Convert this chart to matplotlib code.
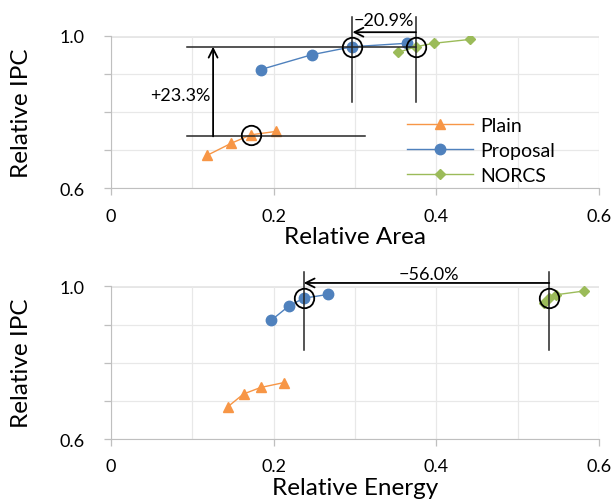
import matplotlib
matplotlib.use("Agg")
import matplotlib.pyplot as plt
import numpy as np

plt.rcParams['font.family'] = ['Lato', 'DejaVu Sans']

# ---- data ----
area_plain_x = [0.118, 0.148, 0.172, 0.203]
area_plain_y = [0.686, 0.718, 0.740, 0.749]
area_prop_x = [0.184, 0.247, 0.297, 0.364]
area_prop_y = [0.911, 0.950, 0.971, 0.980]
area_norcs_x = [0.353, 0.375, 0.397, 0.441]
area_norcs_y = [0.956, 0.971, 0.980, 0.990]

energy_plain_x = [0.144, 0.163, 0.184, 0.213]
energy_plain_y = [0.685, 0.718, 0.735, 0.748]
energy_prop_x = [0.197, 0.219, 0.237, 0.267]
energy_prop_y = [0.911, 0.949, 0.969, 0.979]
energy_norcs_x = [0.532, 0.539, 0.547, 0.582]
energy_norcs_y = [0.956, 0.969, 0.978, 0.988]

series_names = ["Plain", "Proposal", "NORCS"]
xticks = [0, 0.2, 0.4, 0.6]
xtick_labels = ["0", "0.2", "0.4", "0.6"]
yticks = [0.6, 1.0]
ytick_labels = ["0.6", "1.0"]

label_ipc_gain = "+23.3%"
label_area_cut = "\u221220.9%"
label_energy_cut = "\u221256.0%"

c_orange = "#F79646"
c_blue = "#4F81BD"
c_green = "#9BBB59"

fig = plt.figure(figsize=(6.13, 5.02), dpi=100)
ax1 = fig.add_axes([0.181, 0.623, 0.796, 0.304])
ax2 = fig.add_axes([0.181, 0.1235, 0.796, 0.304])

def style(ax, xlabel):
    ax.set_xlim(0, 0.6)
    ax.set_ylim(0.6, 1.0)
    ax.set_xticks(xticks)
    ax.set_xticklabels(xtick_labels, fontsize=13)
    ax.set_xticks(np.arange(0, 0.61, 0.1), minor=True)
    ax.set_yticks(yticks)
    ax.set_yticklabels(ytick_labels, fontsize=13)
    ax.set_yticks(np.arange(0.6, 1.01, 0.1), minor=True)
    ax.grid(which='both', color='#e8e8e8', linewidth=0.9, zorder=0)
    for s in ['top', 'right']:
        ax.spines[s].set_visible(False)
    ax.spines['left'].set_color('#bfbfbf')
    ax.spines['bottom'].set_color('#bfbfbf')
    ax.axhline(1.0, color='#808080', linewidth=1.0, zorder=1)
    ax.tick_params(which='both', direction='out', length=5, color='#bfbfbf', width=0.9, labelcolor='black')
    ax.tick_params(axis='y', which='both', pad=14)
    ax.tick_params(axis='x', which='minor', length=0)
    ax.tick_params(axis='x', which='major', pad=9)
    ax.set_ylabel("Relative IPC", fontsize=17.5, labelpad=20)
    ax.set_xlabel(xlabel, fontsize=17.5, labelpad=2)

style(ax1, "Relative Area")
style(ax2, "Relative Energy")

for ax, px, py, bx, by, gx, gy in [
    (ax1, area_plain_x, area_plain_y, area_prop_x, area_prop_y, area_norcs_x, area_norcs_y),
    (ax2, energy_plain_x, energy_plain_y, energy_prop_x, energy_prop_y, energy_norcs_x, energy_norcs_y)]:
    ax.plot(px, py, color=c_orange, marker='^', markersize=7.5, linewidth=1.0, label=series_names[0], zorder=3)
    ax.plot(bx, by, color=c_blue, marker='o', markersize=7.5, linewidth=1.0, label=series_names[1], zorder=3)
    ax.plot(gx, gy, color=c_green, marker='D', markersize=5.5, linewidth=1.0, label=series_names[2], zorder=3)

# ---- top annotations ----
k = 2  # highlighted point index
hi_kw = dict(marker='o', markersize=14, markerfacecolor='none', markeredgecolor='black', markeredgewidth=1.3, linestyle='none', zorder=5, clip_on=False)
ax1.plot([area_plain_x[k]], [area_plain_y[k]], **hi_kw)
ax1.plot([area_prop_x[k]], [area_prop_y[k]], **hi_kw)
ax1.plot([area_norcs_x[1]], [area_norcs_y[1]], **hi_kw)

line_kw = dict(color='#262626', linewidth=1.1, zorder=4, clip_on=False)
ax1.plot([0.094, area_norcs_x[1]], [area_prop_y[k], area_prop_y[k]], **line_kw)
ax1.plot([0.094, 0.3125], [area_plain_y[k] - 0.004, area_plain_y[k] - 0.004], **line_kw)
ax1.annotate("", xy=(0.1256, area_prop_y[k]), xytext=(0.1256, area_plain_y[k] - 0.004),
             arrowprops=dict(arrowstyle='->', color='black', lw=1.3, shrinkA=0, shrinkB=0, mutation_scale=16), zorder=5)
ax1.text(0.122, 0.845, label_ipc_gain, ha='right', va='center', fontsize=13)

ax1.plot([area_prop_x[k], area_prop_x[k]], [0.827, 1.049], **line_kw)
ax1.plot([area_norcs_x[1], area_norcs_x[1]], [0.827, 1.049], **line_kw)
ax1.annotate("", xy=(area_prop_x[k], 1.009), xytext=(area_norcs_x[1], 1.009),
             arrowprops=dict(arrowstyle='->', color='black', lw=1.3, shrinkA=0, shrinkB=0, mutation_scale=16),
             annotation_clip=False, zorder=5)
ax1.text(0.336, 1.041, label_area_cut, ha='center', va='center', fontsize=13)

leg = ax1.legend(loc='upper left', bbox_to_anchor=(0.607, 0.465), frameon=False, fontsize=14,
                 handlelength=3.4, labelspacing=0.4, handletextpad=0.35, borderaxespad=0, borderpad=0)

# ---- bottom annotations ----
ax2.plot([energy_prop_x[k]], [energy_prop_y[k]], **hi_kw)
ax2.plot([energy_norcs_x[1]], [energy_norcs_y[1]], **hi_kw)
ax2.plot([energy_prop_x[k], energy_prop_x[k]], [0.834, 1.038], **line_kw)
ax2.plot([energy_norcs_x[1], energy_norcs_x[1]], [0.834, 1.038], **line_kw)
ax2.annotate("", xy=(energy_prop_x[k], 1.009), xytext=(energy_norcs_x[1], 1.009),
             arrowprops=dict(arrowstyle='->', color='black', lw=1.3, shrinkA=0, shrinkB=0, mutation_scale=16),
             annotation_clip=False, zorder=5)
ax2.text(0.391, 1.033, label_energy_cut, ha='center', va='center', fontsize=13)

fig.savefig("out.png", dpi=100)
